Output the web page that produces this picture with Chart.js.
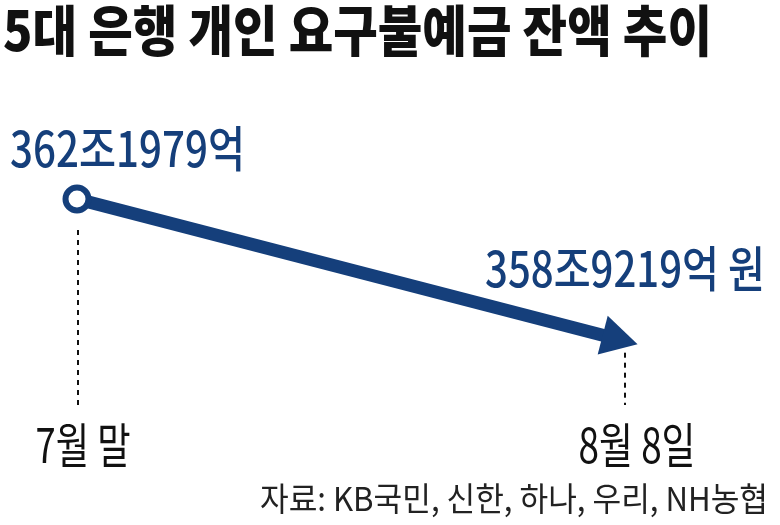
<!DOCTYPE html>
<html>
<head>
<meta charset="utf-8">
<script src="https://cdn.jsdelivr.net/npm/chart.js@4.4.0/dist/chart.umd.min.js"></script>
<style>
  html, body { margin: 0; padding: 0; background: #ffffff; }
  #wrap { width: 780px; height: 525px; position: relative; }
</style>
</head>
<body>
<div id="wrap"><canvas id="c" width="780" height="525"></canvas></div>
<script>
// ---- data ----
const categories = ['7월 말', '8월 8일'];
const balances = [362.1979, 358.9219];   // 조 원
const titleText = '5대 은행 개인 요구불예금 잔액 추이';
const sourceText = '자료: KB국민, 신한, 하나, 우리, NH농협';
const yMin = 356.6257;
const yMax = 364.0245;

const NAVY = '#153f7b';
const KFONT = '"Noto Sans CJK KR", "Noto Sans", sans-serif';

function fmtValue(v, last) {
  const jo = Math.floor(v);
  const eok = Math.round((v - jo) * 10000);
  return jo + '조' + eok + '억' + (last ? ' 원' : '');
}

// draw text horizontally condensed to a target width
function drawCondensed(ctx, text, x, y, font, color, width, align) {
  ctx.save();
  ctx.font = font;
  ctx.fillStyle = color;
  ctx.textBaseline = 'alphabetic';
  ctx.textAlign = 'left';
  const w = ctx.measureText(text).width;
  const s = width / w;
  ctx.translate(x, y);
  ctx.scale(s, 1);
  let dx = 0;
  if (align === 'center') dx = -w / 2;
  else if (align === 'right') dx = -w;
  ctx.fillText(text, dx, 0);
  ctx.restore();
}

const decor = {
  id: 'decor',
  beforeDraw(chart) {
    const ctx = chart.ctx;
    ctx.save();
    ctx.fillStyle = '#ffffff';
    ctx.fillRect(0, 0, chart.width, chart.height);
    ctx.restore();
    // title
    drawCondensed(ctx, titleText, 3, 51, '900 55px ' + KFONT, '#111111', 709, 'left');
    // dashed guide lines
    const meta = chart.getDatasetMeta(0);
    const pts = meta.data;
    ctx.save();
    ctx.strokeStyle = '#111111';
    ctx.lineWidth = 2;
    ctx.setLineDash([5, 5]);
    const startOff = [31, 12];
    pts.forEach((p, i) => {
      ctx.beginPath();
      ctx.moveTo(p.x + 1, p.y + startOff[i]);
      ctx.lineTo(p.x + 1, 405);
      ctx.stroke();
    });
    ctx.restore();
    // category labels via x scale
    const xs = chart.scales.x;
    const widths = [95, 117];
    categories.forEach((lab, i) => {
      const px = xs.getPixelForValue(i);
      drawCondensed(ctx, lab, px + 6 + i * 7, 463, '400 48px ' + KFONT, '#111111', widths[i], 'center');
    });
    // source
    drawCondensed(ctx, sourceText, 768, 511, '400 33px ' + KFONT, '#222222', 508, 'right');
  },
  afterDatasetsDraw(chart) {
    const ctx = chart.ctx;
    const meta = chart.getDatasetMeta(0);
    const pts = meta.data;
    const a = pts[0], b = pts[pts.length - 1];
    // arrowhead
    const dx = b.x - a.x, dy = b.y - a.y;
    const len = Math.sqrt(dx * dx + dy * dy);
    const ux = dx / len, uy = dy / len;
    const nx = -uy, ny = ux;
    const tipX = b.x + ux * 14, tipY = b.y + uy * 14;
    const baseX = tipX - ux * 36, baseY = tipY - uy * 36;
    ctx.save();
    ctx.fillStyle = NAVY;
    ctx.beginPath();
    ctx.moveTo(tipX, tipY);
    ctx.lineTo(baseX + nx * 20, baseY + ny * 20);
    ctx.lineTo(baseX - nx * 20, baseY - ny * 20);
    ctx.closePath();
    ctx.fill();
    ctx.restore();
    // value labels
    drawCondensed(ctx, fmtValue(balances[0], false), a.x - 67, a.y - 32, '500 49px ' + KFONT, NAVY, 235, 'left');
    drawCondensed(ctx, fmtValue(balances[1], true), b.x + 141, b.y - 54, '500 49px ' + KFONT, NAVY, 280, 'right');
  }
};

new Chart(document.getElementById('c'), {
  type: 'line',
  data: {
    labels: categories,
    datasets: [{
      data: balances,
      borderColor: NAVY,
      borderWidth: 13,
      borderCapStyle: 'butt',
      tension: 0,
      fill: false,
      clip: false,
      pointRadius: [11.5, 0],
      pointHoverRadius: [11.5, 0],
      pointBorderWidth: 6,
      pointBackgroundColor: '#ffffff',
      pointBorderColor: NAVY
    }]
  },
  options: {
    responsive: false,
    devicePixelRatio: 1,
    animation: false,
    events: [],
    layout: { padding: { left: 77, right: 156, top: 120, bottom: 85 } },
    plugins: { legend: { display: false }, tooltip: { enabled: false } },
    scales: {
      x: { type: 'category', display: false, offset: false },
      y: { display: false, min: yMin, max: yMax }
    }
  },
  plugins: [decor]
});
</script>
</body>
</html>
